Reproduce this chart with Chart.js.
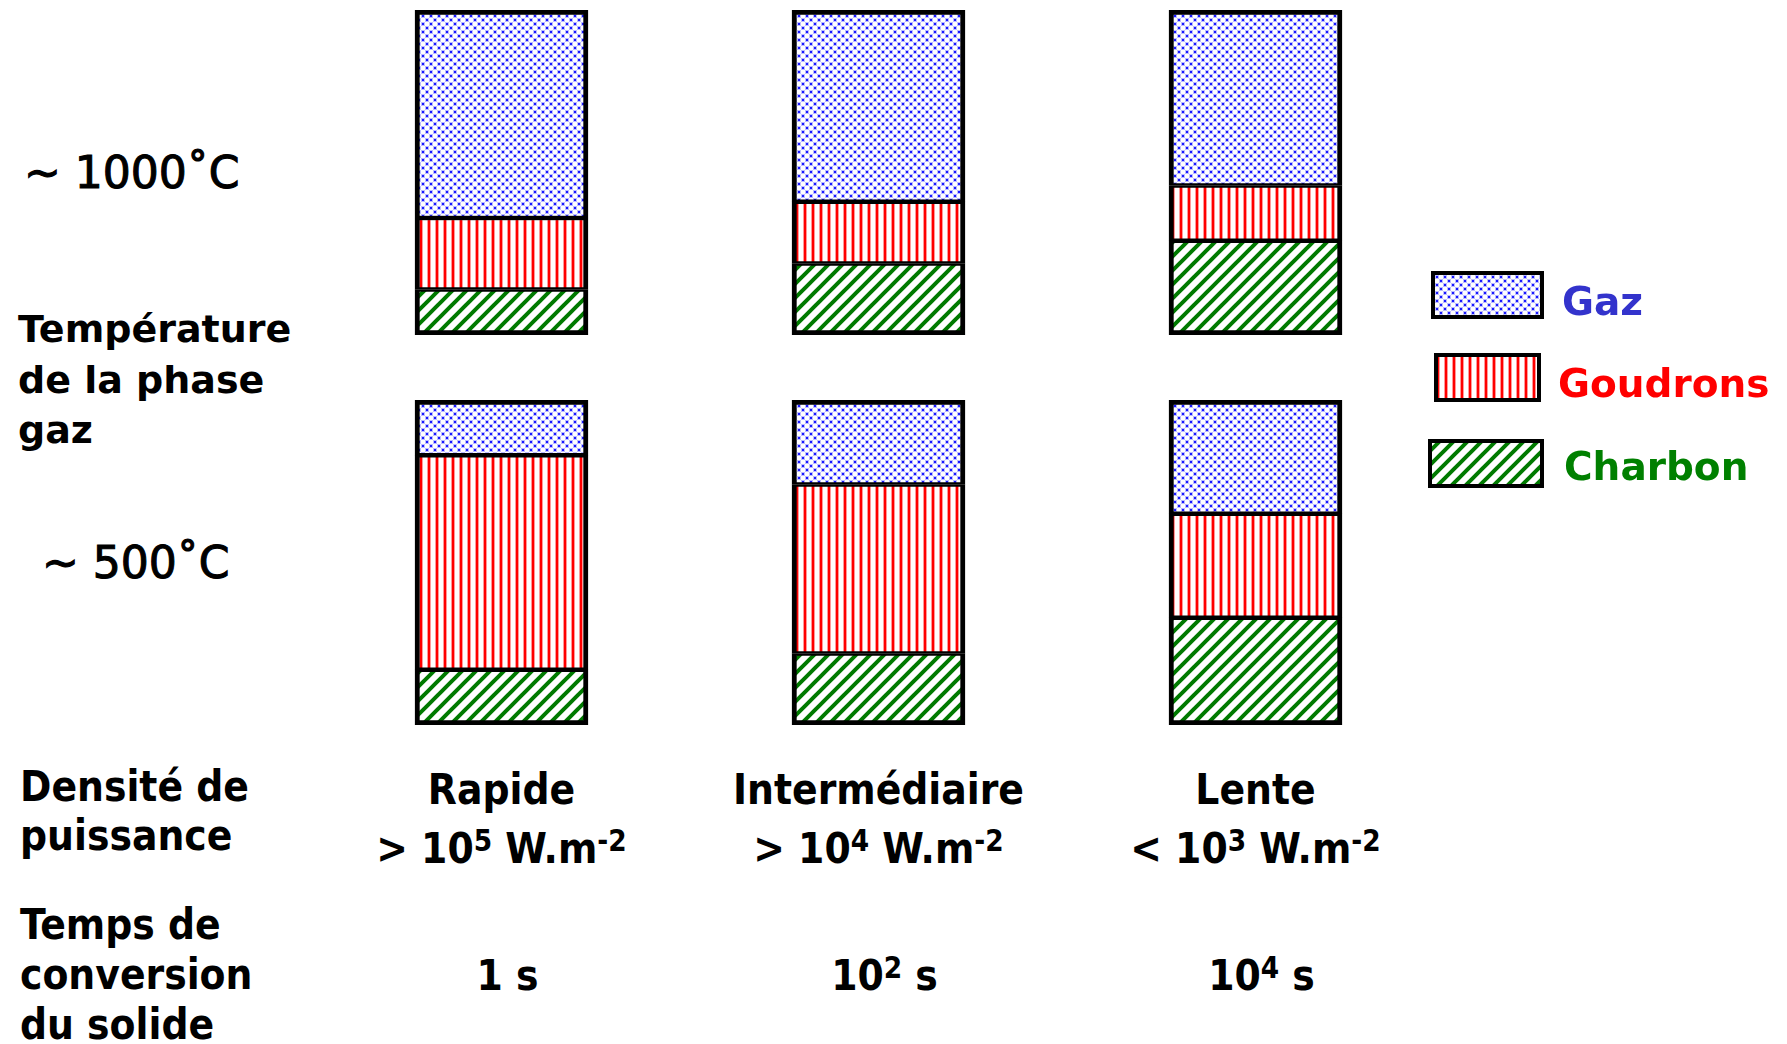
<!DOCTYPE html>
<html><head><meta charset="utf-8">
<script src="https://cdn.jsdelivr.net/npm/chart.js@4.4.0/dist/chart.umd.min.js"></script>
<style>
html,body{margin:0;padding:0;background:#fff;}
body{width:1787px;height:1044px;overflow:hidden;position:relative;}
.t{position:absolute;white-space:nowrap;line-height:normal;color:#000;margin:0;}
.lab{font-family:"DejaVu Sans";font-weight:bold;font-size:38px;}
.temp{font-family:"DejaVu Sans";font-weight:normal;font-size:44px;-webkit-text-stroke:1.1px #000;}
.cond{font-family:"DejaVu Sans Condensed","DejaVu Sans";font-stretch:condensed;font-weight:bold;font-size:42px;}
.leg{font-family:"DejaVu Sans";font-weight:bold;font-size:39px;}
sup{font-size:0.7em;vertical-align:baseline;position:relative;top:-0.42em;line-height:0;}
canvas.c{position:absolute;}
</style></head><body>
<canvas id="topChart" class="c" width="1131" height="325" style="left:313px;top:10px;width:1131px;height:325px"></canvas>
<canvas id="botChart" class="c" width="1131" height="325" style="left:313px;top:400px;width:1131px;height:325px"></canvas>
<script>
// ---- data ----
const categories = ["Rapide", "Intermédiaire", "Lente"];
const seriesNames = ["Charbon", "Goudrons", "Gaz"];
const charbon1000 = [14, 22, 29];
const goudrons1000 = [22, 19, 17];
const gaz1000 = [64, 59, 54];
const charbon500 = [17, 22, 33];
const goudrons500 = [66, 52, 32];
const gaz500 = [17, 26, 35];
const densitySign = [">", ">", "<"];
const densityExp = ["5", "4", "3"];
const timeBase = ["1", "10", "10"];
const timeExp = ["", "2", "4"];
const rowLabels = ["~ 1000˚C", "~ 500˚C"];

// ---- patterns ----
function makePattern(kind){
  const c = document.createElement('canvas');
  let s;
  if (kind === 'dots'){ s = 8; } else if (kind === 'vert'){ s = 8; } else { s = 14; }
  c.width = c.height = s;
  const g = c.getContext('2d');
  g.fillStyle = '#fff'; g.fillRect(0,0,s,s);
  if (kind === 'dots'){
    g.fillStyle = 'rgba(60,60,255,0.35)';
    g.fillRect(0,0,4,4); g.fillRect(4,4,4,4);
    g.fillStyle = '#1a1aff';
    g.fillRect(1,1,2,2); g.fillRect(5,5,2,2);
  } else if (kind === 'vert'){
    g.fillStyle = '#ff0000'; g.fillRect(3,0,2,s);
    g.fillStyle = 'rgba(255,0,0,0.4)'; g.fillRect(5,0,1,s); g.fillRect(2,0,1,s);
  } else {
    g.strokeStyle = '#007a00'; g.lineWidth = 4;
    g.beginPath();
    for (const k of [-s, 0, s]){ g.moveTo(k-2, s+2); g.lineTo(k+s+2, -2); }
    g.stroke();
  }
  return c;
}
const tiles = {Gaz: makePattern('dots'), Goudrons: makePattern('vert'), Charbon: makePattern('diag')};
function pat(name, ctx){ return ctx.createPattern(tiles[name], 'repeat'); }

function makeChart(id, ch, go, ga){
  const cv = document.getElementById(id);
  const ctx = cv.getContext('2d');
  return new Chart(cv, {
    type: 'bar',
    data: { labels: categories, datasets: [
      {label: seriesNames[0], data: ch, backgroundColor: pat('Charbon', ctx), borderColor: '#000',
        borderWidth: {top: 2.5, bottom: 5, left: 5, right: 5}, borderSkipped: false},
      {label: seriesNames[1], data: go, backgroundColor: pat('Goudrons', ctx), borderColor: '#000',
        borderWidth: {top: 2.5, bottom: 2.5, left: 5, right: 5}, borderSkipped: false},
      {label: seriesNames[2], data: ga, backgroundColor: pat('Gaz', ctx), borderColor: '#000',
        borderWidth: {top: 5, bottom: 2.5, left: 5, right: 5}, borderSkipped: false}
    ]},
    options: {
      responsive: false, animation: false, events: [], devicePixelRatio: 1,
      layout: {padding: 0},
      plugins: {legend: {display: false}, tooltip: {enabled: false}},
      datasets: {bar: {barThickness: 173}},
      scales: {
        x: {display: false, stacked: true},
        y: {display: false, stacked: true, min: 0, max: 100}
      }
    }
  });
}
const topC = makeChart('topChart', charbon1000, goudrons1000, gaz1000);
const botC = makeChart('botChart', charbon500, goudrons500, gaz500);

// ---- text ----
function addText(html, cls, x, baseline, size, align, color){
  const d = document.createElement('div');
  d.className = 't ' + cls;
  d.innerHTML = html;
  d.style.top = (baseline - 0.928*size) + 'px';
  if (color) d.style.color = color;
  document.body.appendChild(d);
  if (align === 'center'){
    const w = d.getBoundingClientRect().width;
    d.style.left = (x - w/2) + 'px';
  } else d.style.left = x + 'px';
  return d;
}
addText(rowLabels[0], 'temp', 24, 188, 44);
addText(rowLabels[1], 'temp', 42, 578, 44);
addText('Température', 'lab', 18, 342, 38);
addText('de la phase', 'lab', 18, 393, 38);
addText('gaz', 'lab', 18, 443, 38);
addText('Densité de', 'cond', 20, 801, 42);
addText('puissance', 'cond', 20, 850, 42);
addText('Temps de', 'cond', 20, 939, 42);
addText('conversion', 'cond', 20, 989, 42);
addText('du solide', 'cond', 20, 1039, 42);

const left0 = 313;
categories.forEach((cat, i) => {
  const cx = left0 + botC.scales.x.getPixelForValue(i);
  addText(cat, 'cond', cx, 804, 42, 'center');
  addText(densitySign[i] + ' 10<sup>' + densityExp[i] + '</sup> W.m<sup>-2</sup>', 'cond', cx, 863, 42, 'center');
  const tl = timeBase[i] + (timeExp[i] ? '<sup>' + timeExp[i] + '</sup>' : '') + ' s';
  addText(tl, 'cond', cx + 6, 990, 42, 'center');
});

// ---- legend ----
const legendItems = [
  {name: 'Gaz', color: '#3333cc', box: [1431, 271, 113, 48], tx: 1562, by: 315},
  {name: 'Goudrons', color: '#ff0000', box: [1434, 353, 107, 49], tx: 1558, by: 397},
  {name: 'Charbon', color: '#008000', box: [1428, 439, 116, 49], tx: 1564, by: 480}
];
legendItems.forEach(it => {
  const [x, y, w, h] = it.box;
  const c = document.createElement('canvas');
  c.width = w; c.height = h; c.className = 'c';
  c.style.left = x + 'px'; c.style.top = y + 'px';
  document.body.appendChild(c);
  const g = c.getContext('2d');
  g.fillStyle = g.createPattern(tiles[it.name], 'repeat');
  g.fillRect(0, 0, w, h);
  g.strokeStyle = '#000'; g.lineWidth = 4;
  g.strokeRect(2, 2, w-4, h-4);
  addText(it.name, 'leg', it.tx, it.by, 39, 'left', it.color);
});
</script>
</body></html>
